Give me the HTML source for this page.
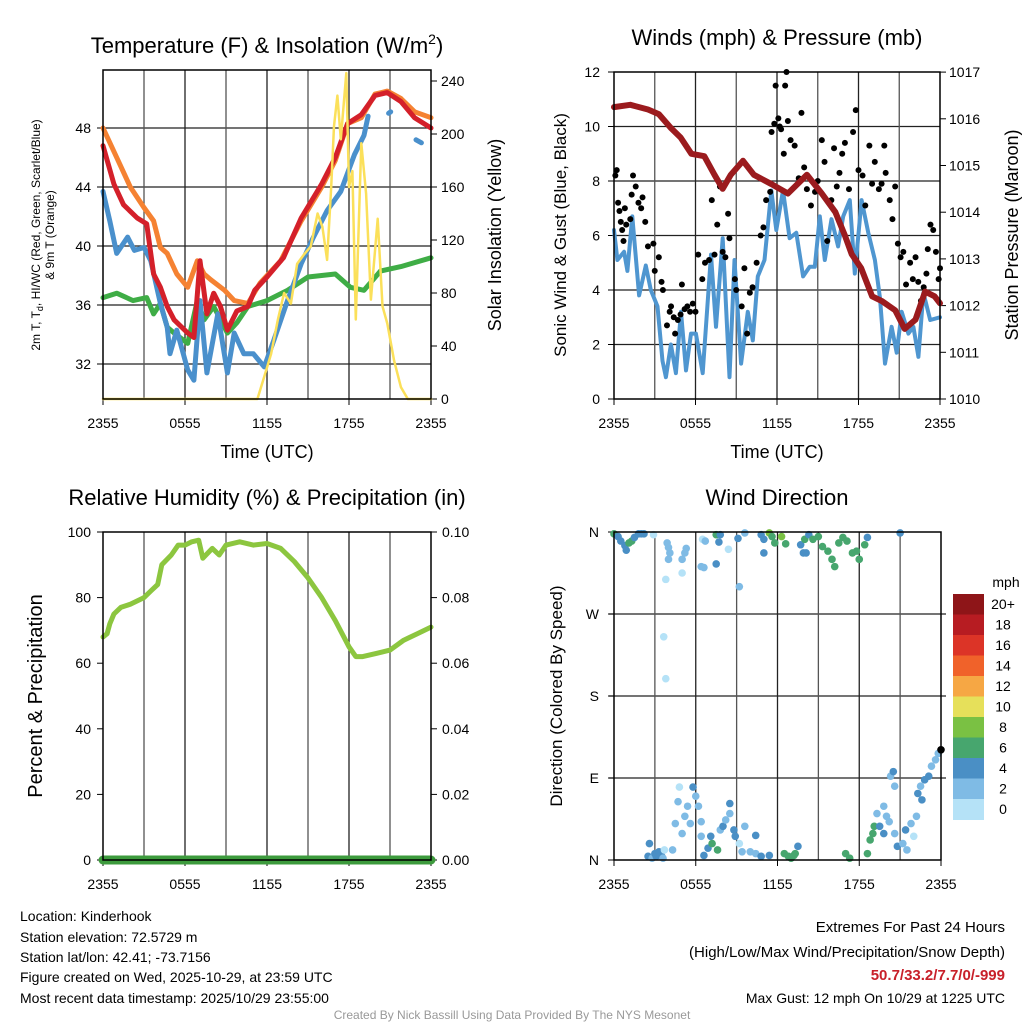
<!DOCTYPE html>
<html><head><meta charset="utf-8"><style>
body{margin:0;background:#fff;}
svg{display:block;font-family:"Liberation Sans",sans-serif;}
</style></head><body>
<svg id="chart" width="1024" height="1024" viewBox="0 0 1024 1024">
<rect width="1024" height="1024" fill="#fff"/>
<g id="g1"></g>
<g id="g2"></g>
<g id="g3"></g>
<g id="g4"></g>
<g id="gtext">
<text x="20" y="921" font-size="14">Location: Kinderhook</text>
<text x="20" y="942" font-size="14">Station elevation: 72.5729 m</text>
<text x="20" y="962" font-size="14">Station lat/lon: 42.41; -73.7156</text>
<text x="20" y="982" font-size="14">Figure created on Wed, 2025-10-29, at 23:59 UTC</text>
<text x="20" y="1003" font-size="14">Most recent data timestamp: 2025/10/29 23:55:00</text>
<text x="1005" y="932" font-size="15" text-anchor="end">Extremes For Past 24 Hours</text>
<text x="1005" y="957" font-size="15" text-anchor="end">(High/Low/Max Wind/Precipitation/Snow Depth)</text>
<text x="1005" y="980" font-size="15" font-weight="bold" fill="#c8202a" text-anchor="end">50.7/33.2/7.7/0/-999</text>
<text x="1005" y="1003" font-size="14" text-anchor="end">Max Gust: 12 mph On 10/29 at 1225 UTC</text>
<text x="512" y="1019" font-size="12" fill="#999" text-anchor="middle">Created By Nick Bassill Using Data Provided By The NYS Mesonet</text>
</g>
</svg>
<script>
const timeTicks=["2355","0555","1155","1755","2355"];
// Panel 1
const orangeT=[0,1,2,3,3.7,4.2,4.7,5.4,6.2,6.9,7.4,7.9,8.9,9.6,10.6,11.5,13,14.5,16,17,17.9,18.9,19.9,20.8,21.8,22.8,24];
const orangeV=[48,46,44,42.6,41.7,39.9,39.5,38.1,37.2,39,38.1,37.7,37,36.3,36.1,37.5,39,41.7,44,45.8,48.3,48.7,50.3,50.5,50,49.1,48.7];
const redT=[0,0.8,1.5,2.5,3.2,3.7,4.2,4.7,5.2,6.2,6.65,7.1,7.6,8.1,8.6,9.1,9.8,10.6,11.1,12,13.2,14.5,16,17,17.9,18.9,19.9,20.8,21.8,22.8,24];
const redV=[46.8,44.2,42.8,41.9,41.5,38.1,37.2,35.9,35,34.1,33.8,39,35.4,36.8,35.9,34.3,35.6,35.9,37,37.9,39.2,41.9,44.2,46,48.3,48.9,50.2,50.4,49.8,48.7,48];
const blueT=[0,0.5,1,1.8,2.3,3,3.5,4.2,4.7,4.9,5.4,6.2,6.65,7.1,7.6,8.4,9.1,9.6,10.3,11,11.8,12.5,13.5,14.5,15.4,16.4,17.4,18.4,19.1,19.4,null,20.9,21.05,null,22.9,23.3];
const blueV=[43.7,41.7,39.5,40.6,39.7,39.9,39,36.1,34.5,32.7,34.3,31.6,30.9,36.3,31.4,35.4,31.4,34.1,32.7,32.7,31.8,33.6,36.3,38.8,40.6,42.4,43.7,46.2,47.5,48.8,null,49,49.1,null,47.2,47];
const greenT=[0,1,2.2,3.2,3.7,4.2,4.7,5.2,6.2,6.9,7.4,8.1,9.1,9.8,10.6,12,13.5,15,17,18.1,19.1,20.3,21.8,24];
const greenV=[36.5,36.8,36.3,36.5,35.4,36.1,34.5,34.1,33.4,36.3,35,35.9,34.1,34.8,35.9,36.3,37,37.9,38.1,37.2,37,38.3,38.6,39.2];
const insolT=[0,11.3,11.8,12.3,12.8,13.25,13.75,14.2,14.7,15.2,15.7,16.05,16.4,16.7,16.9,17.15,17.4,17.8,18,18.25,18.5,18.9,19.25,19.6,20.1,20.45,20.8,21.3,21.8,22.3,24];
const insolV=[0,0,17,34,60,80,72,102,109,115,140,130,105,160,206,229,196,246,160,172,60,193,155,75,136,70,57,29,9,0,0];
const tempTicks=[32,36,40,44,48];
const insolTicks=[0,40,80,120,160,200,240];
// Panel 2
const windT=[0,0.25,0.74,0.99,1.35,1.85,2.34,2.71,3.2,3.57,3.82,4.19,4.56,4.93,5.3,5.67,6.03,6.53,7.14,7.51,8,8.5,8.87,9.36,9.85,10.22,10.59,11.08,11.58,11.95,12.44,12.93,13.42,13.92,14.41,14.78,15.15,15.52,16.01,16.5,16.87,17.36,17.73,18.23,18.72,19.21,19.58,19.95,20.44,20.81,21.18,21.67,22.04,22.41,22.78,23.28,24];
const windV=[6.2,5.1,5.4,4.7,6.7,3.8,4.9,4,3.4,1.4,0.8,2,0.95,3.2,1.05,2.4,2.4,0.95,5.3,2.65,5.9,0.8,5.1,1.3,3.2,2.15,4.5,5.1,7.65,6.2,7.65,5.9,6.1,4.5,4.85,4.85,6.7,5.1,6.6,5.6,6.7,7.3,4.6,7.3,6.1,5.1,3.7,1.3,2.65,1.7,3.2,2.4,2.65,1.55,3.9,2.9,3];
const gustT=[0.1,0.2,0.3,0.4,0.5,0.6,0.7,0.8,0.9,1.2,1.3,1.4,1.6,1.8,2,2.1,2.3,2.5,2.9,3,3.3,3.5,3.6,3.9,4.1,4.2,4.4,4.5,4.7,4.9,5,5.2,5.4,5.6,5.8,6,6.2,6.5,6.7,7,7.2,7.4,7.6,7.8,8,8.2,8.4,8.5,8.9,9,9.4,9.6,9.8,10,10.2,10.5,10.8,11,11.2,11.5,11.6,11.8,11.9,12.1,12.2,12.3,12.5,12.6,12.7,12.8,13,13.3,13.6,13.8,14,14.2,14.5,14.8,15,15.3,15.5,15.7,16,16.2,16.4,16.6,16.8,17,17.3,17.6,17.8,18,18.3,18.5,18.8,19,19.2,19.5,19.7,19.9,20,20.3,20.5,20.7,20.9,21.1,21.3,21.5,21.8,22,22.2,22.4,22.6,22.8,23,23.1,23.3,23.5,23.7,23.9,24];
const gustV=[8.2,8.4,7.2,6.9,6.5,6.2,5.8,7,6.4,6.6,7.5,8.2,7.8,7.2,7,7.4,6.5,5.6,5.7,4.7,5.2,4.3,4,2.7,3.2,3.4,3,2.4,2.9,3.1,4.2,3.3,3.4,3.2,3.5,3.2,5.3,4.4,5,5.1,7.3,5.3,6.4,7.8,5.4,5.2,6.8,5.9,4.4,4,3.4,4.8,2.4,3.9,4.1,5,6,6.3,7.3,7.6,9.8,10.1,11.5,10.3,10,9.9,9,11.5,12,10.2,9.5,9.3,8.1,10.5,8.5,7.7,7.1,7.6,8,9.5,8.7,5.8,7.3,9.2,7.8,8.3,9,9.4,7.7,9.8,10.6,8.4,8.2,7.1,9.3,7.9,8.7,7.7,7.9,9.3,8.3,7.3,6.6,7.8,5.7,5.2,5.4,4.2,5,4.4,5.2,4.3,3.6,4.1,4.6,5.5,6.4,6.2,5.4,4.4,4.8];
const presT=[0,1.2,2.5,3.3,4.2,4.9,5.7,6.65,7.4,8,8.6,9.5,10.3,11.6,12.8,14.2,15.3,16.3,17,17.5,18.2,19,19.7,20.7,21.4,22.2,22.9,23.6,24];
const presV=[1016.25,1016.3,1016.2,1016.1,1015.8,1015.6,1015.25,1015.2,1014.8,1014.5,1014.8,1015.1,1014.8,1014.6,1014.4,1014.8,1014.4,1014,1013.5,1013.1,1012.8,1012.2,1012.1,1011.9,1011.5,1011.7,1012.3,1012.2,1012.05];
const windTicks=[0,2,4,6,8,10,12];
const presTicks=[1010,1011,1012,1013,1014,1015,1016,1017];
// Panel 3
const rhT=[0,0.3,0.5,0.8,1.3,2,3,3.5,4,4.3,5,5.5,6,6.5,7,7.3,8,8.5,9,10,11,12,13,14,15,16,17,18,18.5,19,20,21,22,23,24];
const rhV=[68,69,72,75,77,78,80,82,84,90,93,96,96,97,97.5,92,95,93,96,97,96,96.5,95,91,86,80,73,65,62,62,63,64,67,69,71];
const precipT=[0,24];
const precipV=[0,0];
const rhTicks=[0,20,40,60,80,100];
const precipTicks=["0.00","0.02","0.04","0.06","0.08","0.10"];
// Panel 4
const dirT=[0,0.3,0.5,0.8,0.9,1.1,1.3,1.5,1.8,2,2.2,2.9,3.9,4,4.1,4,3.8,3.65,3.8,5.3,5.2,5,5,6.5,6.7,6.4,6.6,7.5,7.5,7.8,7.7,8.4,9.1,9.2,9.6,10.8,11,11,11.4,11.6,11.8,12.3,12.6,13.7,13.9,14,14.1,14.3,14.6,15,15.3,15.7,16,16.2,16.5,16.8,17.1,17.5,17.8,18,18.4,18.6,21,
2.5,2.8,3,3.1,3.3,3.5,3.6,3.7,2.6,4.3,4.5,4.7,4.8,5,5.2,5.4,5.6,5.8,6,6.2,6.4,6.4,6.6,6.9,7.1,7.2,7.6,7.8,8,8.2,8.5,8.5,8.8,8.9,9.2,9.4,9.6,10,10.4,10.4,10.8,11.4,12.5,12.8,13,13.2,13.5,13.3,17,17.3,18.6,18.8,19,19.1,19.3,19.5,19.8,19.8,20,20.2,20.3,20.5,20.6,20.6,20.8,21.2,21.4,21.5,21.8,22,22.2,22.3,22.5,22.6,22.8,23.1,23.3,23.6,23.8,24];
const dirV=[358,355,350,345,340,348,350,354,358,358,358,357,348,343,337,330,308,245,199,342,337,330,315,352,350,322,321,325,357,357,349,341,353,300,359,357,352,337,359,355,348,355,347,346,337,352,337,357,352,355,344,339,330,322,348,354,350,337,339,330,346,354,359,
4,2,7,4,9,4,2,11,18,11,40,64,80,29,48,59,40,80,70,59,42,26,5,13,26,18,11,33,37,44,51,62,33,26,18,9,37,9,7,27,4,5,7,4,2,5,15,7,7,2,7,22,29,37,51,37,29,59,48,42,92,97,81,29,15,18,33,11,40,26,48,73,81,66,88,92,103,110,117,121];
const dirS=[6,4,4,4,4,6,6,4,4,4,4,0,2,2,2,2,0,0,0,2,2,2,0,0,2,2,2,4,6,4,4,0,4,2,2,4,4,4,8,6,6,8,6,4,4,6,4,4,6,6,6,6,6,6,6,6,6,6,6,6,6,4,4,
4,2,4,4,4,4,2,0,4,2,2,2,0,2,2,2,2,4,2,2,2,2,4,4,4,6,6,2,4,2,2,4,4,4,0,2,2,2,2,4,4,4,6,6,6,6,4,6,6,6,6,6,6,6,2,4,4,2,2,2,2,4,2,2,4,2,4,2,2,0,2,4,2,4,4,4,2,2,2];
const dirTicks=["N","E","S","W","N"];
const speedLabels=["0","2","4","6","8","10","12","14","16","18","20+"];
const speedColors=["#b5e2f7","#7fbbe5","#4a8fc5","#47a66e","#7ac143","#e6e05a","#f6a744","#f0622a","#dc3427","#b71c22","#8e1518"];

const NS="http://www.w3.org/2000/svg";
function mk(parent,tag,attrs,txt){const e=document.createElementNS(NS,tag);for(const k in attrs)e.setAttribute(k,attrs[k]);if(txt!==undefined)e.textContent=txt;parent.appendChild(e);return e;}
function xS(x0,x1){return t=>x0+t/24*(x1-x0);}
function linePath(ts,vs,xf,yf){let d="",pen=false;for(let i=0;i<ts.length;i++){if(ts[i]===null||vs[i]===null){pen=false;continue;}d+=(pen?"L":"M")+xf(ts[i]).toFixed(1)+" "+yf(vs[i]).toFixed(1);pen=true;}return d;}
function vgrid(g,x0,x1,y0,y1){const xf=xS(x0,x1);for(let h=3;h<24;h+=3){const l=mk(g,"line",{x1:xf(h),x2:xf(h),y1:y0,y2:y1,stroke:h%6==0?"#222":"#555","stroke-width":1.3});

}
timeTicks.forEach((s,i)=>{const x=xf(i*6);const t=mk(g,"text",{x:x,y:y1+29,"font-size":14,"text-anchor":"middle"},s);


mk(g,"line",{x1:x,x2:x,y1:y1,y2:y1+6,stroke:"#000"});});}
function frame(g,x0,x1,y0,y1){const r=mk(g,"rect",{x:x0,y:y0,width:x1-x0,height:y1-y0,fill:"none",stroke:"#000","stroke-width":1.5});

}
function title(g,x,y,s,fs){const t=mk(g,"text",{x:x,y:y,"font-size":fs||22,"text-anchor":"middle"},s);

return t;}
function vlabel(g,x,y,s,fs,name){const t=mk(g,"text",{x:x,y:y,"font-size":fs,"text-anchor":"middle",transform:`rotate(-90 ${x} ${y})`},s);

return t;}
function series(g,d,color,w,name){const p=mk(g,"path",{d:d,fill:"none",stroke:color,"stroke-width":w,"stroke-linejoin":"round","stroke-linecap":"round"});

return p;}

// ---- Panel 1
(function(){const g=document.getElementById("g1");const X0=103,X1=431,Y0=70,Y1=399;const xf=xS(X0,X1);
const yT=v=>364-(v-32)*14.75;const yI=v=>399-v*1.325;
tempTicks.forEach(v=>{const l=mk(g,"line",{x1:X0,x2:X1,y1:yT(v),y2:yT(v),stroke:"#222","stroke-width":1.3});


mk(g,"line",{x1:X0-6,x2:X0,y1:yT(v),y2:yT(v),stroke:"#000"});
const t=mk(g,"text",{x:X0-12,y:yT(v)+5,"font-size":14,"text-anchor":"end"},v);

});
insolTicks.forEach(v=>{mk(g,"line",{x1:X1,x2:X1+6,y1:yI(v),y2:yI(v),stroke:"#000"});
const t=mk(g,"text",{x:X1+10,y:yI(v)+5,"font-size":14},v);

});
vgrid(g,X0,X1,Y0,Y1);
series(g,linePath(greenT,greenV,xf,yT),"#3fad46",5,"dewpoint-line");
series(g,linePath(blueT,blueV,xf,yT),"#4a90cc",5,"heat-index-line");
series(g,linePath(orangeT,orangeV,xf,yT),"#f58232",5,"temp-9m-line");
series(g,linePath(redT,redV,xf,yT),"#d4202a",5,"temp-2m-line");
series(g,linePath(insolT,insolV,xf,yI),"#fbe05a",2.5,"insolation-line");
frame(g,X0,X1,Y0,Y1);
const t=title(g,267,53,"");t.innerHTML='Temperature (F) &amp; Insolation (W/m<tspan dy="-9" font-size="14">2</tspan><tspan dy="9">)</tspan>';
const xl=mk(g,"text",{x:267,y:458,"font-size":18,"text-anchor":"middle"},"Time (UTC)");


const a=vlabel(g,40,235,"",12,"y-axis-title");a.innerHTML='2m T, T<tspan dy="3" font-size="9">d</tspan><tspan dy="-3">, HI/WC (Red, Green, Scarlet/Blue)</tspan>';
vlabel(g,54,235,"& 9m T (Orange)",12,"y-axis-title-line2");
vlabel(g,501,235,"Solar Insolation (Yellow)",18,"right-axis-title");
})();

// ---- Panel 2
(function(){const g=document.getElementById("g2");const X0=614,X1=940,Y0=72,Y1=399;const xf=xS(X0,X1);
const yW=v=>399-v*27.25;const yP=v=>399-(v-1010)*46.7;
windTicks.forEach(v=>{if(v>0&&v<12){const l=mk(g,"line",{x1:X0,x2:X1,y1:yW(v),y2:yW(v),stroke:"#222","stroke-width":1.3});

}
mk(g,"line",{x1:X0-6,x2:X0,y1:yW(v),y2:yW(v),stroke:"#000"});
const t=mk(g,"text",{x:X0-14,y:yW(v)+5,"font-size":14,"text-anchor":"end"},v);

});
presTicks.forEach(v=>{mk(g,"line",{x1:X1,x2:X1+6,y1:yP(v),y2:yP(v),stroke:"#000"});
const t=mk(g,"text",{x:X1+9,y:yP(v)+5,"font-size":14},v);

});
vgrid(g,X0,X1,Y0,Y1);
series(g,linePath(windT,windV,xf,yW),"#4f96d0",4,"sonic-wind-line");
gustT.forEach((t,i)=>{const c=mk(g,"circle",{cx:xf(t),cy:yW(gustV[i]),r:3,fill:"#000"});

});
series(g,linePath(presT,presV,xf,yP),"#9b1b1e",6,"pressure-line");
frame(g,X0,X1,Y0,Y1);
title(g,777,45,"Winds (mph) & Pressure (mb)");
const xl=mk(g,"text",{x:777,y:458,"font-size":18,"text-anchor":"middle"},"Time (UTC)");


vlabel(g,566,235,"Sonic Wind & Gust (Blue, Black)",17,"y-axis-title");
vlabel(g,1018,235,"Station Pressure (Maroon)",18,"right-axis-title");
})();

// ---- Panel 3
(function(){const g=document.getElementById("g3");const X0=103,X1=431,Y0=532,Y1=860;const xf=xS(X0,X1);
const yR=v=>860-v*3.28;const yPr=v=>860-v*3280;
rhTicks.forEach((v,i)=>{mk(g,"line",{x1:X0-6,x2:X0,y1:yR(v),y2:yR(v),stroke:"#000"});
const t=mk(g,"text",{x:X0-12,y:yR(v)+5,"font-size":14,"text-anchor":"end"},v);


mk(g,"line",{x1:X1,x2:X1+6,y1:yR(v),y2:yR(v),stroke:"#000"});
const t2=mk(g,"text",{x:X1+11,y:yR(v)+5,"font-size":14},precipTicks[i]);

});
vgrid(g,X0,X1,Y0,Y1);
series(g,linePath(rhT,rhV,xf,yR),"#8cc63f",5,"rh-line");
series(g,linePath(precipT,precipV,xf,yPr),"#3d9b3d",9,"precip-line");
frame(g,X0,X1,Y0,Y1);
title(g,267,505,"Relative Humidity (%) & Precipitation (in)");
vlabel(g,42,696,"Percent & Precipitation",20,"y-axis-title");
})();

// ---- Panel 4
(function(){const g=document.getElementById("g4");const X0=614,X1=941,Y0=532,Y1=860;const xf=xS(X0,X1);
const yD=v=>860-v*(328/360);
dirTicks.forEach((s,i)=>{const y=yD(i*90);if(i>0&&i<4){const l=mk(g,"line",{x1:X0-5,x2:X1+5,y1:y,y2:y,stroke:"#222","stroke-width":1.3});

}
mk(g,"line",{x1:X0-6,x2:X0,y1:y,y2:y,stroke:"#000"});
const t=mk(g,"text",{x:X0-15,y:y+5,"font-size":14,"text-anchor":"end"},s);

});
vgrid(g,X0,X1,Y0,Y1);
dirT.forEach((t,i)=>{const ci=Math.min(10,Math.floor(dirS[i]/2));const c=mk(g,"circle",{cx:xf(t),cy:yD(dirV[i]),r:3.8,fill:speedColors[ci]});

});
frame(g,X0,X1,Y0,Y1);
title(g,777,505,"Wind Direction");
vlabel(g,562,696,"Direction (Colored By Speed)",17,"y-axis-title");
const cb=mk(g,"g",{});


const bh=20.5,top=594;
speedLabels.forEach((s,i)=>{const k=10-i;const y=top+i*bh;
const r=mk(cb,"rect",{x:953,y:y,width:31,height:bh+0.5,fill:speedColors[k]});


const t=mk(cb,"text",{x:1003,y:y+15,"font-size":14,"text-anchor":"middle"},speedLabels[k]);

});
const u=mk(cb,"text",{x:1006,y:587,"font-size":14,"text-anchor":"middle"},"mph");


})();
</script>
</body></html>
